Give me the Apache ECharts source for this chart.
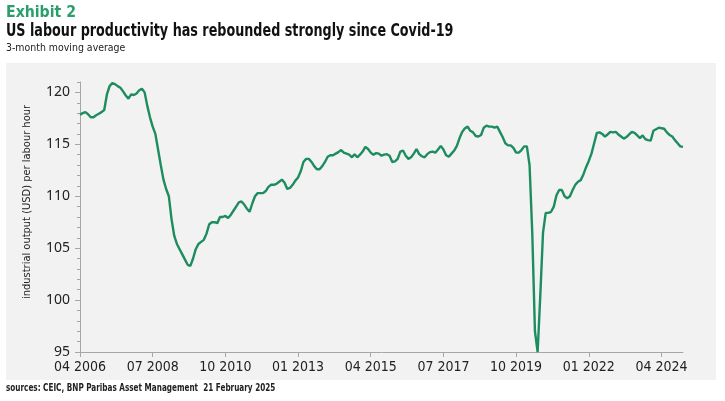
<!DOCTYPE html>
<html>
<head>
<meta charset="utf-8">
<title>US labour productivity</title>
<script src="https://cdn.jsdelivr.net/npm/echarts@6/dist/echarts.min.js"></script>
<style>
  html, body { margin: 0; padding: 0; background: #fff; }
  #c { width: 725px; height: 401px; }
</style>
</head>
<body>
<div id="c"></div>
<script>
// 3-month moving average, industrial output (USD) per labour hour, Apr 2006 - Dec 2024
var startYear = 2006;
var startMonth = 4;
var productivity = [
    // 2006 (Apr-Dec)
    117.85, 118.0, 118.1, 117.9, 117.6, 117.6, 117.8, 117.95, 118.1,
    // 2007
    118.3, 119.8, 120.6, 120.9, 120.8, 120.6, 120.45, 120.1, 119.7, 119.4, 119.8, 119.75,
    // 2008
    119.9, 120.2, 120.35, 120.0, 118.7, 117.6, 116.7, 116.0, 114.5, 113.0, 111.6, 110.7,
    // 2009
    110.0, 107.8, 106.2, 105.4, 104.9, 104.4, 103.9, 103.4, 103.3, 104.0, 104.9, 105.4,
    // 2010
    105.6, 105.8, 106.4, 107.3, 107.5, 107.5, 107.4, 108.0, 108.0, 108.1, 107.9, 108.2,
    // 2011
    108.6, 109.0, 109.4, 109.5, 109.2, 108.8, 108.5, 109.3, 110.0, 110.3, 110.3, 110.3,
    // 2012
    110.5, 110.9, 111.1, 111.1, 111.2, 111.4, 111.6, 111.3, 110.7, 110.8, 111.1, 111.5,
    // 2013
    111.8, 112.4, 113.3, 113.6, 113.6, 113.3, 112.9, 112.6, 112.6, 112.9, 113.3, 113.8,
    // 2014
    113.95, 113.95, 114.1, 114.25, 114.45, 114.2, 114.1, 114.0, 113.75, 114.05, 113.75, 114.0,
    // 2015
    114.3, 114.75, 114.55, 114.2, 114.0, 114.15, 114.1, 113.9, 114.0, 114.05, 113.9, 113.3,
    // 2016
    113.35, 113.6, 114.3, 114.4, 113.9, 113.6, 113.75, 114.1, 114.55, 114.05, 113.85, 113.75,
    // 2017
    114.05, 114.25, 114.3, 114.2, 114.5, 114.85, 114.5, 113.95, 113.8, 114.1, 114.4, 114.85,
    // 2018
    115.6, 116.2, 116.55, 116.7, 116.3, 116.15, 115.8, 115.75, 115.9, 116.6, 116.8, 116.7,
    // 2019
    116.7, 116.6, 116.7, 116.2, 115.7, 115.1, 114.9, 114.9, 114.65, 114.2, 114.2, 114.45,
    // 2020
    114.8, 114.8, 113.0, 106.5, 97.0, 95.0, 100.5, 106.5, 108.4, 108.4, 108.5, 109.0,
    // 2021
    110.1, 110.6, 110.6, 110.0, 109.8, 110.0, 110.6, 111.1, 111.4, 111.55, 112.1, 112.8,
    // 2022
    113.4, 114.1, 115.1, 116.1, 116.15, 116.0, 115.75, 115.95, 116.2, 116.15, 116.2, 115.95,
    // 2023
    115.75, 115.55, 115.7, 115.95, 116.2, 116.1, 115.85, 115.6, 115.85, 115.5, 115.4, 115.35,
    // 2024
    116.3, 116.45, 116.6, 116.55, 116.5, 116.15, 115.9, 115.75, 115.4, 115.1, 114.8, 114.75
];
var tickLabels = ['04 2006', '07 2008', '10 2010', '01 2013', '04 2015', '07 2017', '10 2019', '01 2022', '04 2024'];
var yTicks = [95, 100, 105, 110, 115, 120];

// month labels "MM YYYY"
var months = [];
for (var i = 0; i < productivity.length; i++) {
    var mm = startMonth - 1 + i;
    var y = startYear + Math.floor(mm / 12);
    var m = (mm % 12) + 1;
    months.push((m < 10 ? '0' + m : '' + m) + ' ' + y);
}

function isTick(idx, value) {
    return tickLabels.indexOf(value) >= 0;
}

var green = '#1d8c5f';
var axisGrey = '#a6a6a6';
var narrow = '"DejaVu Sans Condensed", "Liberation Sans Narrow", sans-serif';

// header / footer text, squeezed horizontally to get the condensed look
function label(text, x, y, size, weight, color, sx) {
    return {
        type: 'text', x: x, y: y, scaleX: sx, silent: true,
        style: {
            text: text, fill: color, verticalAlign: 'middle', align: 'left',
            font: weight + ' ' + size + 'px ' + narrow
        }
    };
}

var myChart = echarts.init(document.getElementById('c'));
var option = {
    backgroundColor: '#ffffff',
    animation: false,
    graphic: [
        {
            type: 'rect', z: -10, silent: true,
            shape: { x: 6, y: 63, width: 710, height: 317 },
            style: { fill: '#f2f2f2' }
        },
        label('Exhibit 2', 6, 13, 16, 'bold', '#2a9f6c', 0.98),
        label('US labour productivity has rebounded strongly since Covid-19', 6, 32, 17, 'bold', '#111111', 0.834),
        label('3-month moving average', 6, 48, 11, 'normal', '#222222', 0.95),
        label('sources: CEIC, BNP Paribas Asset Management  21 February 2025', 6, 388, 10.5, 'bold', '#222222', 0.77)
    ],
    grid: { left: 80, right: 42, top: 82, height: 270 },
    xAxis: {
        type: 'category',
        data: months,
        boundaryGap: false,
        axisLine: { lineStyle: { color: axisGrey, width: 1 } },
        axisTick: { show: true, interval: isTick, length: 5, lineStyle: { color: axisGrey } },
        axisLabel: { interval: isTick, margin: 8, color: '#222', fontSize: 14, fontFamily: narrow },
        splitLine: { show: false }
    },
    yAxis: [{
        type: 'value',
        min: yTicks[0],
        max: 121,
        interval: 5,
        name: 'industrial output (USD) per labour hour',
        nameLocation: 'middle',
        nameGap: 47,
        nameTextStyle: { color: '#222', fontSize: 11, fontFamily: narrow, padding: [0, 0, 0, 30] },
        axisLine: { show: true, lineStyle: { color: axisGrey, width: 1 } },
        axisTick: { show: true, length: 5, lineStyle: { color: axisGrey } },
        axisLabel: { showMaxLabel: false, margin: 10, color: '#222', fontSize: 14, fontFamily: '"Noto Sans", sans-serif' },
        splitLine: { show: false }
    }, {
        type: 'value',
        min: yTicks[0],
        max: 121,
        interval: 1,
        position: 'left',
        axisLine: { show: false },
        axisTick: { show: true, length: 3, lineStyle: { color: axisGrey } },
        axisLabel: { show: false },
        splitLine: { show: false }
    }],
    series: [{
        name: 'productivity',
        type: 'line',
        data: productivity,
        yAxisIndex: 0,
        showSymbol: false,
        symbol: 'none',
        lineStyle: { color: green, width: 2.4 },
        itemStyle: { color: green }
    }]
};
myChart.setOption(option);
</script>
</body>
</html>
